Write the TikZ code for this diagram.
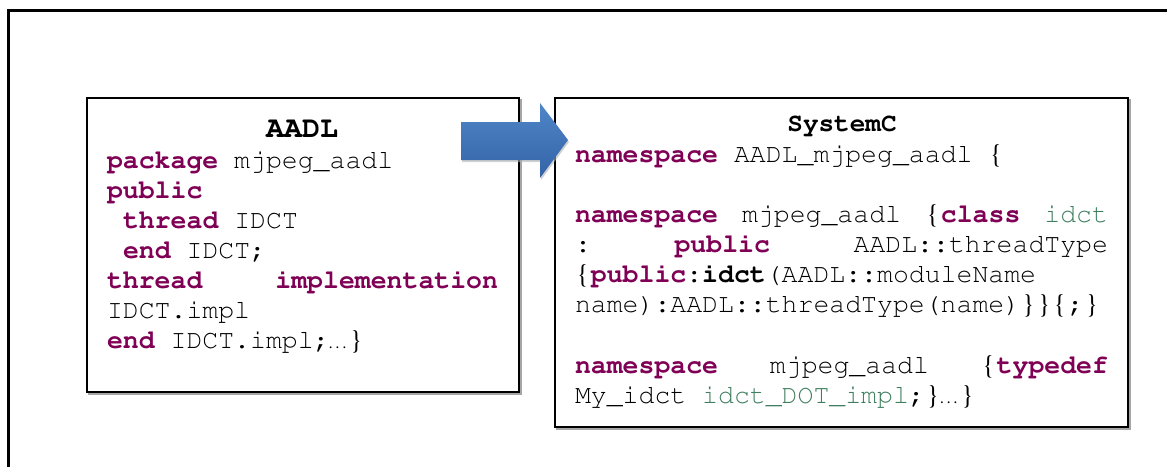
\documentclass[tikz,border=0pt]{standalone}
\usepackage[T1]{fontenc}
\definecolor{kwc}{HTML}{7F0055}
\definecolor{grc}{HTML}{3F7F5F}
\definecolor{arrtop}{HTML}{4F86C8}
\definecolor{arrbot}{HTML}{3363A6}
\newcommand\monof{\fontfamily{pcr}\selectfont}
\newcommand\seriff{\fontfamily{ptm}\selectfont}
\newcommand\codefont{\fontfamily{pcr}\fontsize{26.5}{30}\selectfont}
\newcommand\kw[1]{\textcolor{kwc}{\bfseries #1}}
\newcommand\grn[1]{\textcolor{grc}{#1}}
\newcommand\lbr{\makebox[0.6em]{\seriff\mdseries\{}}
\newcommand\rbr{\makebox[0.6em]{\seriff\mdseries\}}}
\newcommand\ellip{\makebox[0.7em]{\seriff\fontsize{17}{17}\selectfont\textellipsis}}
\begin{document}
\begin{tikzpicture}[x=1pt,y=-1pt,
  every node/.style={inner sep=0pt,outer sep=0pt},
  code/.style={anchor=base west,font=\codefont},
  title/.style={anchor=base},
  frame/.style={line width=2pt,draw=black},
  shadowline/.style={line width=1.5pt,draw=black!35}]
\useasboundingbox (0,0) rectangle (1167,467);
% outer frame (open at right and bottom)
\coordinate (fa) at (8,467);
\coordinate (fb) at (8,10);
\coordinate (fc) at (1167,10);
\draw[line width=3pt] (fa) -- (fb) -- (fc);
% boxes
\draw[shadowline] (89,100) rectangle (521,394);
\draw[frame,fill=white] (87,98) rectangle (519,392);
\draw[shadowline] (557,100) rectangle (1130,429);
\draw[frame,fill=white] (555,98) rectangle (1128,427);
% AADL box
\node[title,font=\fontfamily{pcr}\bfseries\fontsize{30}{30}\selectfont] (t1) at (302,137) {AADL};
\node[code] (a1) at (107,168) {\kw{package} mjpeg\_aadl};
\node[code] (a2) at (107,198) {\kw{public}};
\node[code] (a3) at (123,228) {\kw{thread} IDCT};
\node[code] (a4) at (123,258) {\kw{end} IDCT;};
\node[code] (a5) at (107,288) {\hbox to 391pt{\kw{thread}\hfill\kw{implementation}}};
\node[code] (a6) at (107,318) {IDCT.impl};
\node[code] (a7) at (107,348) {\kw{end} IDCT.impl;\ellip\rbr};
% SystemC box
\node[title,font=\fontfamily{pcr}\bfseries\fontsize{26}{26}\selectfont] (t2) at (842,131) {SystemC};
\node[code] (s1) at (575,162) {\kw{namespace} AADL\_mjpeg\_aadl \lbr};
\node[code] (s2) at (575,222) {\hbox to 533pt{\kw{namespace}\hfill mjpeg\_aadl\hfill\lbr\kw{class}\hfill\grn{idct}}};
\node[code] (s3) at (575,252) {\hbox to 533pt{:\hfill\kw{public}\hfill AADL::threadType}};
\node[code] (s4) at (575,282) {\lbr\kw{public}:\textbf{idct}(AADL::moduleName};
\node[code] (s5) at (575,312) {name):AADL::threadType(name)\rbr\rbr\lbr;\rbr};
\node[code] (s6) at (575,373) {\hbox to 533pt{\kw{namespace}\hfill mjpeg\_aadl\hfill\lbr\kw{typedef}}};
\node[code] (s7) at (575,403) {My\_idct \grn{idct\_DOT\_impl};\rbr\ellip\rbr};
% arrow
\fill[black!30,opacity=0.6] (462,124) -- (541,124) -- (541,105) -- (569,142) -- (541,180) -- (541,162) -- (462,162) -- cycle;
\shade[top color=arrtop,bottom color=arrbot] (461,122) -- (540,122) -- (540,103) -- (568,140) -- (540,178) -- (540,160) -- (461,160) -- cycle;
\end{tikzpicture}
\end{document}
